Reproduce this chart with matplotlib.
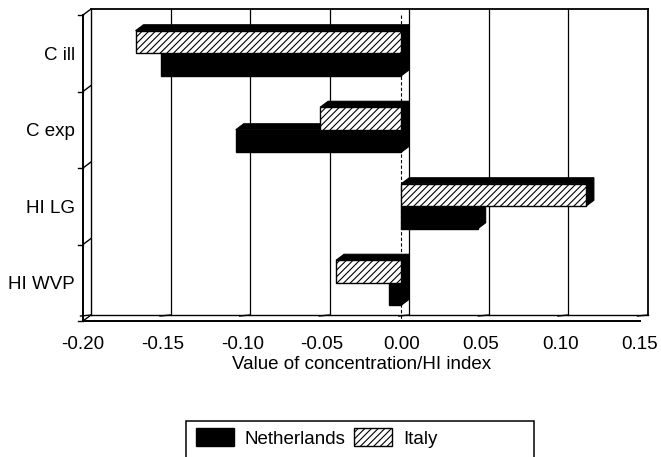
import numpy as np
import matplotlib
matplotlib.use("Agg")
import matplotlib.pyplot as plt
from matplotlib.patches import Polygon, Rectangle, Patch

plt.rcParams['font.family'] = ['Liberation Sans', 'DejaVu Sans']
plt.rcParams['font.size'] = 13.5
plt.rcParams['hatch.linewidth'] = 0.8

# Data
categories = ['C ill', 'C exp', 'HI LG', 'HI WVP']
netherlands = [-0.151, -0.104, 0.048, -0.008]
italy = [-0.167, -0.051, 0.116, -0.041]
x_ticks = [-0.20, -0.15, -0.10, -0.05, 0.00, 0.05, 0.10, 0.15]
x_tick_labels = ['-0.20', '-0.15', '-0.10', '-0.05', '0.00', '0.05', '0.10', '0.15']
series_names = ['Netherlands', 'Italy']

W, H = 661, 457
fig = plt.figure(figsize=(W / 100, H / 100), dpi=100)
ax_l, ax_r, ax_t, ax_b = 83, 640, 15, 321
ax = fig.add_axes([ax_l / W, 1 - ax_b / H, (ax_r - ax_l) / W, (ax_b - ax_t) / H])
xmin, xmax = x_ticks[0], x_ticks[-1]
ncat = len(categories)
ax.set_xlim(xmin, xmax)
ax.set_ylim(ncat, 0)
for s in ax.spines.values():
    s.set_visible(False)
ax.patch.set_visible(False)


def px_to_data(dx_px, dy_px):
    """Convert a pixel displacement (right, up) into data units."""
    p0 = ax.transData.transform((0, 0))
    p1 = ax.transData.inverted().transform(p0 + np.array([dx_px, dy_px]))
    return p1[0], p1[1]


# depth of the 3-D box: back plane sits right and up of the front plane
ddx, ddy = px_to_data(8, 6)   # ddy is negative (inverted y axis)

line_kw = dict(color='black', clip_on=False, solid_capstyle='projecting')


def seg(x0, y0, x1, y1, lw=1.1, **kw):
    ax.plot([x0, x1], [y0, y1], lw=lw, **{**line_kw, **kw})


# back wall frame
seg(xmin + ddx, ddy, xmax + ddx, ddy, lw=1.3)
seg(xmax + ddx, ddy, xmax + ddx, ncat + ddy, lw=1.3)
seg(xmin + ddx, ddy, xmin + ddx, ncat + ddy, lw=1.0)
seg(xmin + ddx, ncat + ddy, xmax + ddx, ncat + ddy, lw=1.0)

# vertical gridlines on the back wall
for xv in x_ticks[1:-1]:
    seg(xv + ddx, ddy, xv + ddx, ncat + ddy, lw=0.9)

# front axes
seg(xmin, 0, xmin, ncat, lw=1.4)
seg(xmin, ncat, xmax, ncat, lw=1.4)

# floor diagonals and slanted ticks
tx, ty = px_to_data(-2.5, -5)
for xv in x_ticks:
    seg(xv + tx, ncat - ty, xv + ddx, ncat + ddy, lw=1.0)

# left wall diagonals and ticks
lx, _ = px_to_data(-5, 0)
for yv in range(ncat + 1):
    seg(xmin, yv, xmin + ddx, yv + ddy, lw=1.0)
    seg(xmin + lx, yv, xmin, yv, lw=1.0)

# dashed zero reference on the front plane
ax.plot([0, 0], [0, ncat], color='black', lw=0.8, ls=(0, (3, 2)), clip_on=False)

ax.set_xticks(x_ticks, x_tick_labels)
ax.set_yticks(np.arange(ncat) + 0.5, categories)
ax.tick_params(axis='both', length=0)
ax.tick_params(axis='x', pad=11)
ax.tick_params(axis='y', pad=6)
ax.set_xlabel('Value of concentration/HI index', labelpad=2)

bar_h = 0.294


def draw_bar(value, y_top, y_bot, hatched, z):
    xl, xr = min(0, value), max(0, value)
    top = Polygon([(xl, y_top), (xr, y_top), (xr + ddx, y_top + ddy), (xl + ddx, y_top + ddy)],
                  closed=True, facecolor='black', edgecolor='black', lw=0.8, zorder=z, clip_on=False)
    side = Polygon([(xr, y_top), (xr + ddx, y_top + ddy), (xr + ddx, y_bot + ddy), (xr, y_bot)],
                   closed=True, facecolor='black', edgecolor='black', lw=0.8, zorder=z, clip_on=False)
    ax.add_patch(top)
    ax.add_patch(side)
    front = Rectangle((xl, y_top), xr - xl, y_bot - y_top,
                      facecolor='white' if hatched else 'black', edgecolor='black',
                      hatch='/////' if hatched else None, lw=1.0, zorder=z + 0.5, clip_on=False)
    ax.add_patch(front)


for i in range(ncat):
    c = i + 0.5
    z = 3 + i
    draw_bar(netherlands[i], c, c + bar_h, False, z)
    draw_bar(italy[i], c - bar_h, c, True, z + 0.6)

# legend box and entries
box_l, box_r, box_t, box_b = 186, 534, 421, 458
fig.patches.append(Rectangle((box_l / W, 1 - box_b / H), (box_r - box_l) / W, (box_b - box_t) / H,
                             transform=fig.transFigure, facecolor='none', edgecolor='black', lw=1.1))
handles = [Patch(facecolor='black', edgecolor='black'),
           Patch(facecolor='white', edgecolor='black', hatch='/////')]
fig.legend(handles, series_names, loc='center left', ncol=2, frameon=False,
           bbox_to_anchor=(196 / W, 1 - 438 / H), borderpad=0, borderaxespad=0,
           handlelength=2.0, handleheight=1.1, handletextpad=0.6, columnspacing=0.45)

fig.savefig('out.png', dpi=100)
